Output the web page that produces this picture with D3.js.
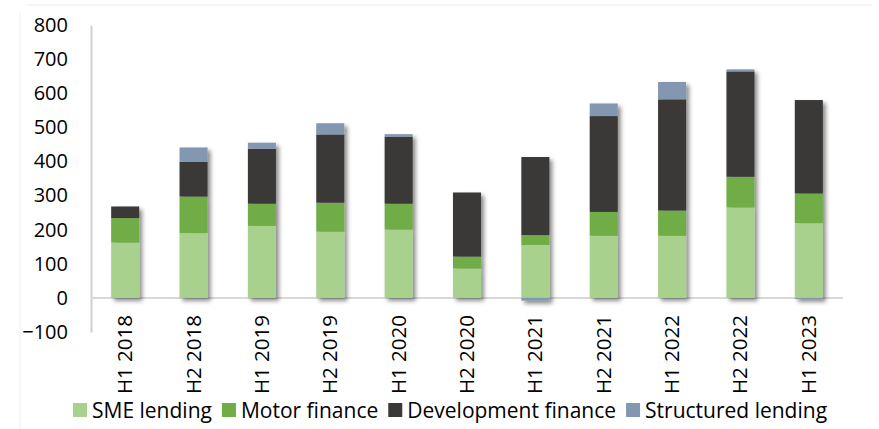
<!DOCTYPE html>
<html>
<head>
<meta charset="utf-8">
<script src="https://cdn.jsdelivr.net/npm/d3@7"></script>
<style>
  body { margin: 0; background: #fff; }
  svg { display: block; font-family: "Open Sans", sans-serif; }
</style>
</head>
<body>
<div id="chart"></div>
<script>
var periods = ['H1 2018','H2 2018','H1 2019','H2 2019','H1 2020','H2 2020','H1 2021','H2 2021','H1 2022','H2 2022','H1 2023'];
var smeLending = [162, 190, 211, 194, 200, 86, 155, 182, 182, 265, 219];
var motorFinance = [72, 107, 65, 85, 76, 35, 29, 70, 74, 90, 87];
var developmentFinance = [34, 102, 161, 200, 197, 188, 229, 281, 326, 309, 274];
var structuredLending = [0, 42, 18, 33, 7, 0, -8, 37, 51, 6, -3];
var seriesNames = ['SME lending', 'Motor finance', 'Development finance', 'Structured lending'];
var yTicks = [-100, 0, 100, 200, 300, 400, 500, 600, 700, 800];

var width = 879, height = 429;
var color = ['#a9d18e', '#70ad47', '#3b3838', '#8497b0'];

var rows = periods.map(function(p, i) {
  return { period: p, 'SME lending': smeLending[i], 'Motor finance': motorFinance[i],
    'Development finance': developmentFinance[i], 'Structured lending': structuredLending[i] };
});

var svg = d3.select('#chart').append('svg').attr('width', width).attr('height', height);

var defs = svg.append('defs');
var f = defs.append('filter').attr('id', 'shadow')
  .attr('x', '-10%').attr('y', '-10%').attr('width', '120%').attr('height', '120%');
f.append('feDropShadow').attr('dx', 3).attr('dy', 3).attr('stdDeviation', 2)
  .attr('flood-color', '#000').attr('flood-opacity', 0.45);

// chart frame
svg.append('line').attr('x1', 27).attr('x2', 872).attr('y1', 5).attr('y2', 5)
  .attr('stroke', '#f2f2f2').attr('stroke-width', 1.5);
svg.append('line').attr('x1', 20).attr('x2', 20).attr('y1', 12).attr('y2', height)
  .attr('stroke', '#f4f4f4').attr('stroke-width', 1.5);
svg.append('line').attr('x1', 872).attr('x2', 872).attr('y1', 8).attr('y2', height)
  .attr('stroke', '#888').attr('stroke-width', 3).attr('filter', 'url(#shadow)');

var x = d3.scaleBand().domain(periods).range([91, 843]).paddingInner(0.59).paddingOuter(0.295);
var y = d3.scaleLinear().domain([-100, 800]).range([332, 25]);

var stack = d3.stack().keys(seriesNames).offset(d3.stackOffsetDiverging);
var stacked = stack(rows);

// y axis
var yAxis = svg.append('g').attr('transform', 'translate(91,0)')
  .call(d3.axisLeft(y).tickValues(yTicks).tickSize(0).tickPadding(23));
yAxis.select('.domain').attr('stroke', '#d0d0d0').attr('stroke-width', 2);
yAxis.selectAll('text').attr('font-size', 20).attr('fill', '#000')
  .attr('font-family', '"Open Sans", sans-serif');

// zero line
svg.append('line').attr('x1', 91).attr('x2', 843).attr('y1', y(0)).attr('y2', y(0))
  .attr('stroke', '#d9d9d9').attr('stroke-width', 2);

// shadow on the whole group so stacked segments don't shade each other
var layers = svg.append('g').attr('class', 'bars').attr('filter', 'url(#shadow)')
  .selectAll('g')
  .data(stacked).enter().append('g')
  .attr('fill', function(d, i) { return color[i]; });

layers.selectAll('rect').data(function(d) { return d; }).enter().append('rect')
  .attr('x', function(d) { return x(d.data.period); })
  .attr('width', x.bandwidth())
  .attr('y', function(d) { return y(Math.max(d[0], d[1])); })
  .attr('height', function(d) { return Math.abs(y(d[0]) - y(d[1])); });

// category labels
svg.append('g').selectAll('text').data(periods).enter().append('text')
  .attr('transform', function(d) {
    return 'translate(' + (x(d) + x.bandwidth() / 2 + 7) + ',315) rotate(-90)';
  })
  .attr('text-anchor', 'end')
  .attr('font-size', 20.5)
  .attr('fill', '#000')
  .text(function(d) { return d; });

// legend
var legend = svg.append('g').attr('transform', 'translate(0,410)');
var lx = 73;
seriesNames.forEach(function(name, i) {
  legend.append('rect').attr('x', lx).attr('y', -7).attr('width', 14).attr('height', 14)
    .attr('fill', color[i]);
  var t = legend.append('text').attr('x', lx + 19).attr('y', 7.5)
    .attr('font-size', 21).attr('fill', '#000').text(name);
  lx += 19 + t.node().getComputedTextLength() + 10;
});
</script>
</body>
</html>
